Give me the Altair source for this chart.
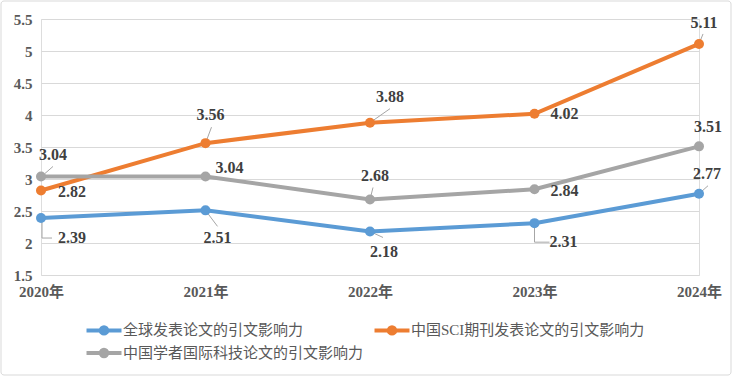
import altair as alt
import pandas as pd

# ---- data ----
years = ["2020年", "2021年", "2022年", "2023年", "2024年"]
series_names = ["全球发表论文的引文影响力", "中国SCI期刊发表论文的引文影响力", "中国学者国际科技论文的引文影响力"]
global_vals = [2.39, 2.51, 2.18, 2.31, 2.77]
china_sci_vals = [2.82, 3.56, 3.88, 4.02, 5.11]
china_intl_vals = [3.04, 3.04, 2.68, 2.84, 3.51]
colors = ["#5B9BD5", "#ED7D31", "#A5A5A5"]

all_vals = [global_vals, china_sci_vals, china_intl_vals]
rows = []
for s, vals in zip(series_names, all_vals):
    for y, v in zip(years, vals):
        rows.append({"year": y, "series": s, "value": v})
df = pd.DataFrame(rows)

# ---- layout (label offsets in pixels, leader lines) ----
label_offsets = {
    series_names[0]: [(31, 20), (12, 28), (14, 21), (29, 19), (8, -20)],
    series_names[1]: [(31, 1), (5, -28), (20, -26), (30, 0), (5, -21)],
    series_names[2]: [(12, -21), (24, -8), (5, -23), (30, 2), (9, -19)],
}
leaders = [
    (series_names[2], 0, 4, -3, 12, -10),
    (series_names[0], 0, 1, 0, 1, 20),
    (series_names[0], 0, 1, 20, 11, 20),
    (series_names[1], 1, 0, 0, 6, -16),
    (series_names[0], 1, 0, 0, 12, 16),
    (series_names[1], 2, 0, 0, 20, -14),
    (series_names[2], 2, 0, 0, 3, -12),
    (series_names[0], 2, 0, 0, 13, 6),
    (series_names[0], 3, 0, 0, 0, 19),
    (series_names[0], 3, 0, 19, 15, 19),
    (series_names[1], 4, 0, 0, 4, -10),
    (series_names[0], 4, 0, 0, 9, -8),
]

SERIF = "'Liberation Serif', 'Times New Roman', 'Noto Sans CJK SC', serif"
SANS_LEG = "'Liberation Serif', 'Noto Sans CJK SC', sans-serif"
W, H = 658, 256

x_enc = alt.X("year:N", sort=years, scale=alt.Scale(type="point", padding=0),
              axis=alt.Axis(title=None, labelAngle=0, ticks=False, domain=False, grid=False,
                            labelPadding=9, labelFont=SERIF, labelFontSize=15,
                            labelFontWeight="bold", labelColor="#595959"))
y_enc = alt.Y("value:Q", scale=alt.Scale(domain=[1.5, 5.5], nice=False, zero=False),
              axis=alt.Axis(title=None, values=[1.5, 2, 2.5, 3, 3.5, 4, 4.5, 5, 5.5],
                            format="~g", ticks=False, domain=False, grid=True,
                            gridColor="#D9D9D9", gridWidth=1, labelPadding=9,
                            labelFont=SERIF, labelFontSize=15, labelFontWeight="bold",
                            labelColor="#595959"))

base = alt.Chart(df)

legend_symbol = "M-1.944,0L1.944,0M-0.36,0A0.36,0.36,0,1,0,0.36,0A0.36,0.36,0,1,0,-0.36,0"

frame = base.transform_filter(alt.datum.year == years[0]).transform_filter(
    alt.datum.series == series_names[0]).mark_rect(
    fill="transparent", stroke="#D9D9D9", strokeWidth=1, cornerRadius=3
).encode(x=alt.value(-40), x2=alt.value(690), y=alt.value(-18), y2=alt.value(356))

leader_layers = []
for s, i, x0, y0, x1, y1 in leaders:
    leader_layers.append(
        base.transform_filter((alt.datum.series == s) & (alt.datum.year == years[i]))
        .mark_rule(color="#A6A6A6", strokeWidth=1, xOffset=x0, yOffset=y0,
                   x2Offset=x1, y2Offset=y1)
        .encode(x=x_enc, x2="year:N", y=y_enc, y2="value:Q")
    )

lines = base.mark_line(strokeWidth=4, point=alt.OverlayMarkDef(filled=True, size=100)).encode(
    x=x_enc, y=y_enc,
    color=alt.Color("series:N", sort=series_names,
                    scale=alt.Scale(domain=series_names, range=colors),
                    legend=alt.Legend(title=None, orient="none", legendX=52, legendY=300,
                                      direction="horizontal", columns=2,
                                      symbolType=legend_symbol, symbolSize=324,
                                      symbolStrokeWidth=4, columnPadding=2, rowPadding=-8,
                                      labelFont=SANS_LEG, labelFontSize=15, labelColor="#595959",
                                      labelLimit=400, labelOffset=8)),
)

text_layers = []
for s, vals in zip(series_names, all_vals):
    for i, y in enumerate(years):
        dx, dy = label_offsets[s][i]
        text_layers.append(
            base.transform_filter((alt.datum.series == s) & (alt.datum.year == y))
            .mark_text(dx=dx, dy=dy, font=SERIF, fontSize=16, fontWeight="bold",
                       color="#404040", align="center", baseline="middle")
            .encode(x=x_enc, y=y_enc, text=alt.Text("value:Q", format=".2f"))
        )

chart = alt.layer(frame, *leader_layers, lines, *text_layers).properties(
    width=W, height=H,
    autosize=alt.AutoSizeParams(type="none"),
    padding={"left": 41, "top": 19, "right": 33, "bottom": 102},
).configure_view(stroke=None).configure(background="white")

chart.save("out.html", embed_options={"renderer": "svg", "actions": False})
